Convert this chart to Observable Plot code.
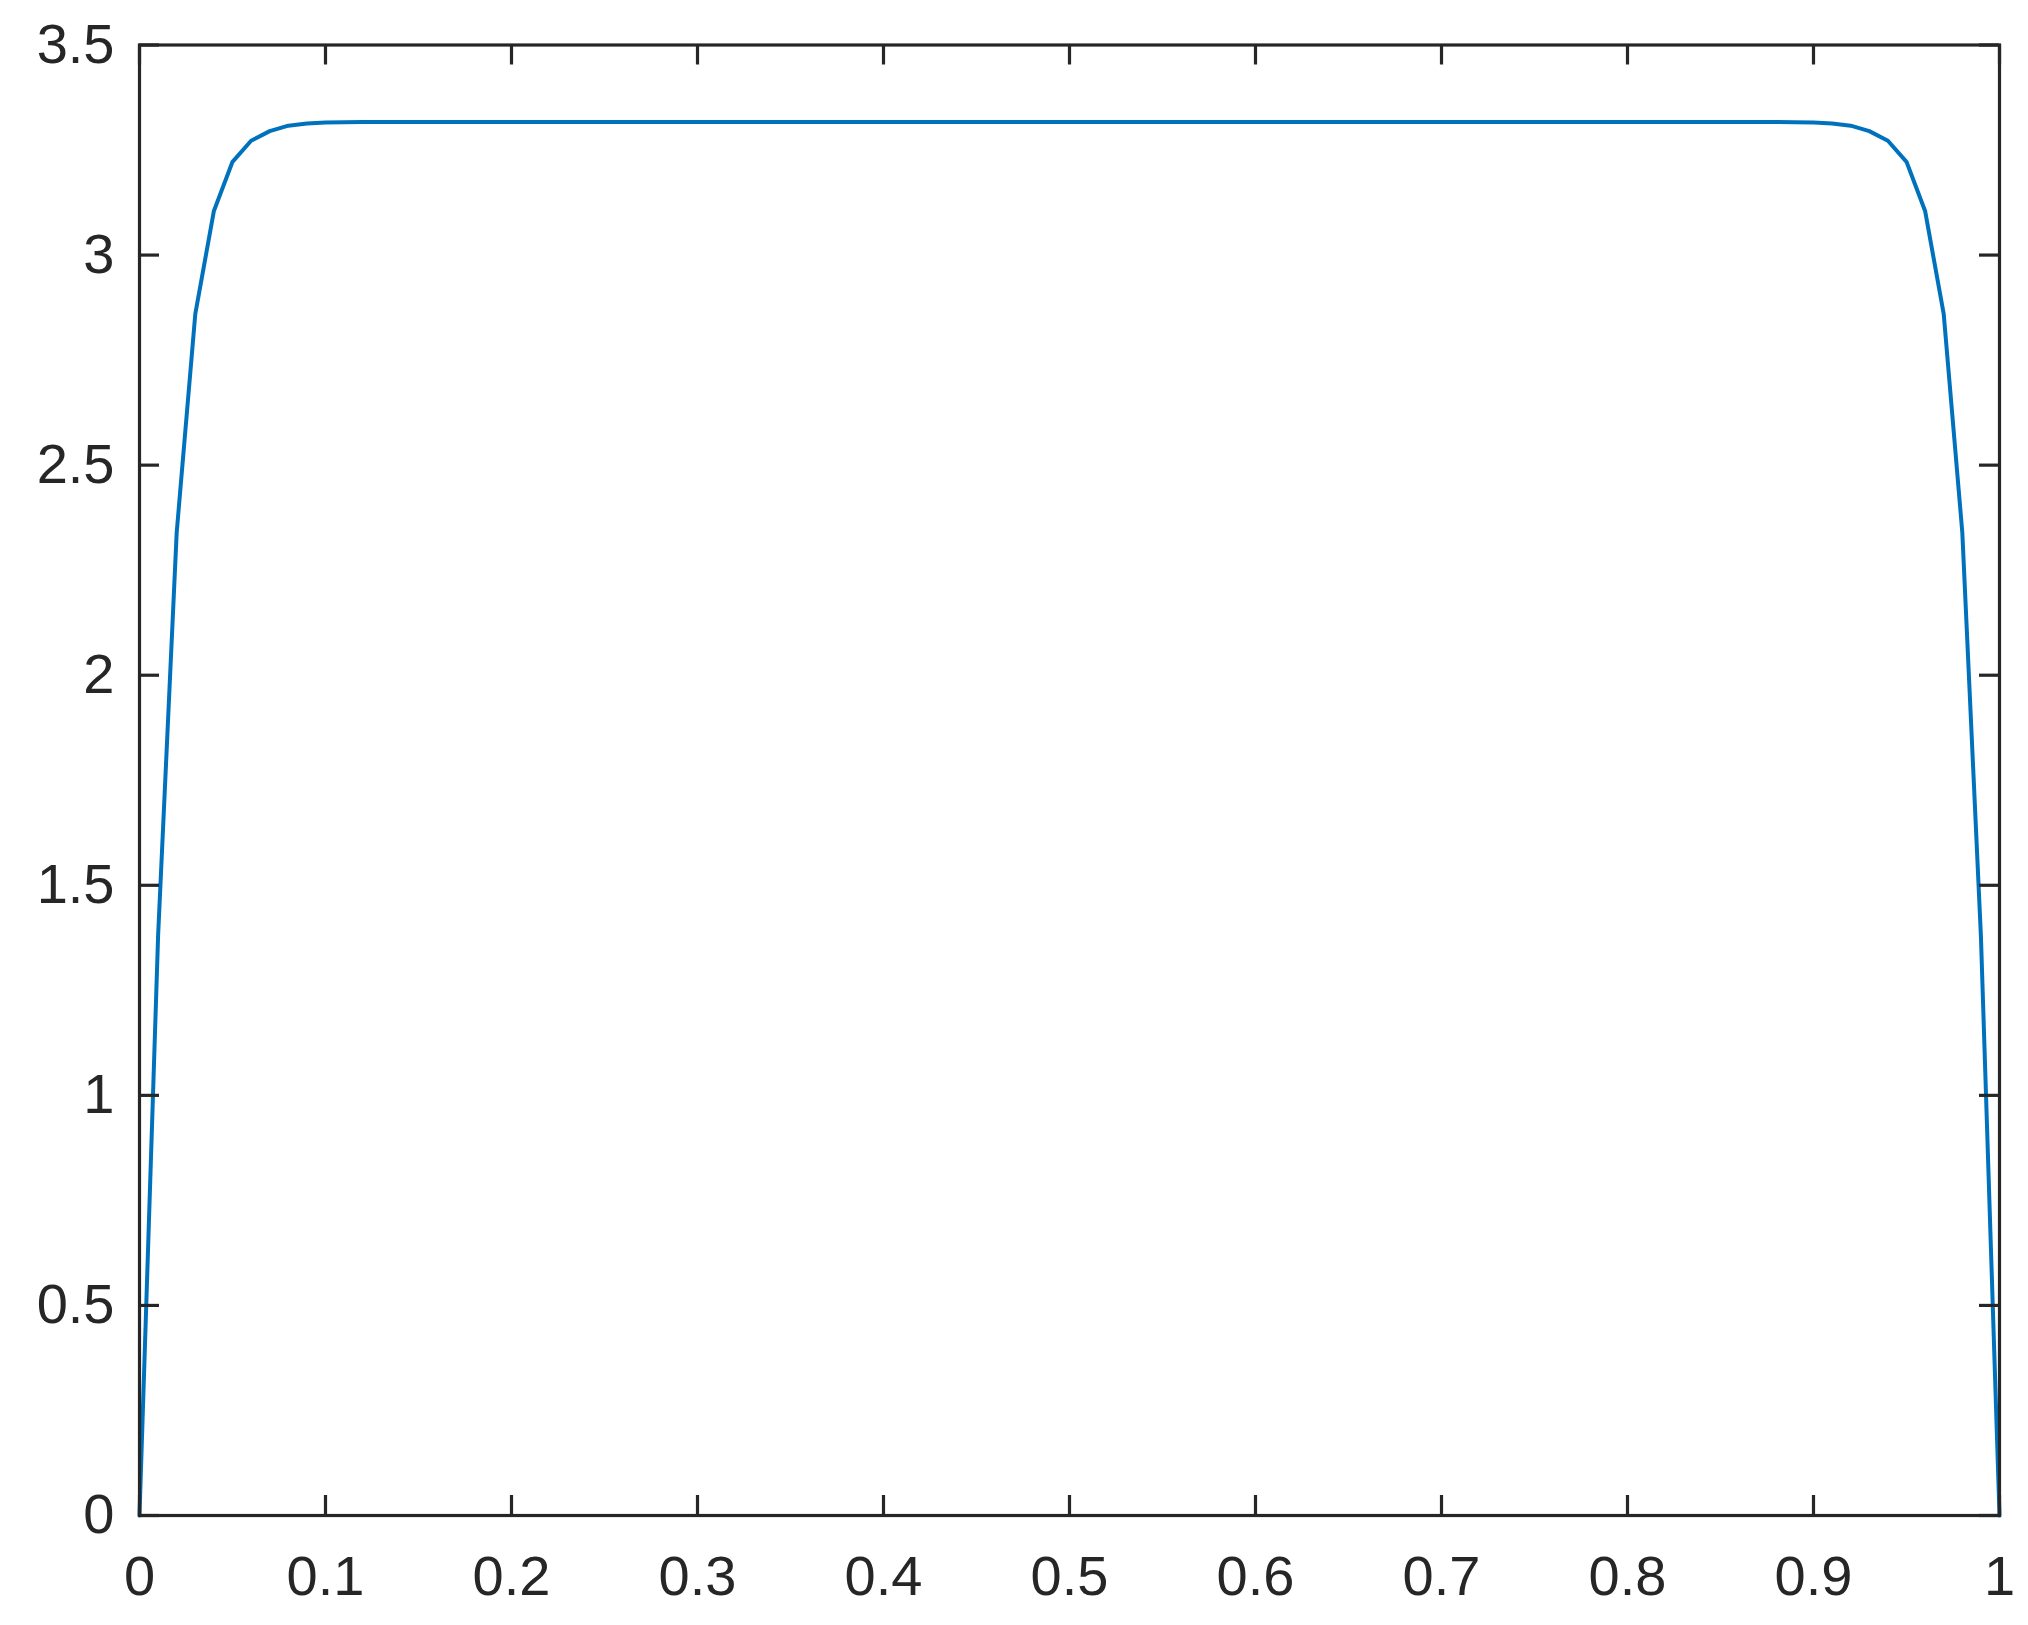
<!DOCTYPE html>
<html>
<head>
<meta charset="utf-8">
<script src="https://cdn.jsdelivr.net/npm/d3@7"></script>
<script src="https://cdn.jsdelivr.net/npm/@observablehq/plot@0.6"></script>
<style>
  html, body { margin: 0; padding: 0; background: #ffffff; }
  #chart { width: 2028px; height: 1625px; }
</style>
</head>
<body>
<div id="chart"></div>
<script>
const xValues = [
  0.00, 0.01, 0.02, 0.03, 0.04, 0.05, 0.06, 0.07, 0.08, 0.09,
  0.10, 0.11, 0.12, 0.13, 0.14, 0.15, 0.16, 0.17, 0.18, 0.19,
  0.20, 0.21, 0.22, 0.23, 0.24, 0.25, 0.26, 0.27, 0.28, 0.29,
  0.30, 0.31, 0.32, 0.33, 0.34, 0.35, 0.36, 0.37, 0.38, 0.39,
  0.40, 0.41, 0.42, 0.43, 0.44, 0.45, 0.46, 0.47, 0.48, 0.49,
  0.50, 0.51, 0.52, 0.53, 0.54, 0.55, 0.56, 0.57, 0.58, 0.59,
  0.60, 0.61, 0.62, 0.63, 0.64, 0.65, 0.66, 0.67, 0.68, 0.69,
  0.70, 0.71, 0.72, 0.73, 0.74, 0.75, 0.76, 0.77, 0.78, 0.79,
  0.80, 0.81, 0.82, 0.83, 0.84, 0.85, 0.86, 0.87, 0.88, 0.89,
  0.90, 0.91, 0.92, 0.93, 0.94, 0.95, 0.96, 0.97, 0.98, 0.99,
  1.00
];
const yValues = [
  0.000, 1.380, 2.340, 2.860, 3.105, 3.222, 3.272, 3.295, 3.308, 3.313,
  3.3155, 3.3163, 3.3166, 3.3166, 3.3166, 3.3166, 3.3166, 3.3166, 3.3166, 3.3166,
  3.3166, 3.3166, 3.3166, 3.3166, 3.3166, 3.3166, 3.3166, 3.3166, 3.3166, 3.3166,
  3.3166, 3.3166, 3.3166, 3.3166, 3.3166, 3.3166, 3.3166, 3.3166, 3.3166, 3.3166,
  3.3166, 3.3166, 3.3166, 3.3166, 3.3166, 3.3166, 3.3166, 3.3166, 3.3166, 3.3166,
  3.3166, 3.3166, 3.3166, 3.3166, 3.3166, 3.3166, 3.3166, 3.3166, 3.3166, 3.3166,
  3.3166, 3.3166, 3.3166, 3.3166, 3.3166, 3.3166, 3.3166, 3.3166, 3.3166, 3.3166,
  3.3166, 3.3166, 3.3166, 3.3166, 3.3166, 3.3166, 3.3166, 3.3166, 3.3166, 3.3166,
  3.3166, 3.3166, 3.3166, 3.3166, 3.3166, 3.3166, 3.3166, 3.3166, 3.3166, 3.3163,
  3.3155, 3.313, 3.308, 3.295, 3.272, 3.222, 3.105, 2.860, 2.340, 1.380,
  0.000
];
const xTicks = [0, 0.1, 0.2, 0.3, 0.4, 0.5, 0.6, 0.7, 0.8, 0.9, 1];
const xTickLabels = ["0", "0.1", "0.2", "0.3", "0.4", "0.5", "0.6", "0.7", "0.8", "0.9", "1"];
const yTicks = [0, 0.5, 1, 1.5, 2, 2.5, 3, 3.5];
const yTickLabels = ["0", "0.5", "1", "1.5", "2", "2.5", "3", "3.5"];

const series = xValues.map((x, i) => ({x, y: yValues[i]}));

const W = 2028, H = 1625;
const mL = 139, mR = 29, mT = 44.5, mB = 110;
const plotW = W - mL - mR, plotH = H - mT - mB;
const tickLen = 20;
const axisColor = "#262626";
const axisWidth = 3.2;
const xLabel = new Map(xTicks.map((t, i) => [t, xTickLabels[i]]));
const yLabel = new Map(yTicks.map((t, i) => [t, yTickLabels[i]]));

const chart = Plot.plot({
  width: W,
  height: H,
  marginLeft: mL,
  marginRight: mR,
  marginTop: mT,
  marginBottom: mB,
  style: {
    background: "#ffffff",
    fontFamily: "'Liberation Sans', Arial, Helvetica, sans-serif",
    fontSize: "56px",
    color: axisColor
  },
  x: {domain: [0, 1]},
  y: {domain: [0, 3.5]},
  marks: [
    Plot.line(series, {x: "x", y: "y", stroke: "#0072BD", strokeWidth: 4, strokeLinejoin: "round"}),
    // inward ticks on all four sides
    Plot.tickY(yTicks, {y: d => d, stroke: axisColor, strokeWidth: axisWidth, insetRight: plotW - tickLen}),
    Plot.tickY(yTicks, {y: d => d, stroke: axisColor, strokeWidth: axisWidth, insetLeft: plotW - tickLen}),
    Plot.tickX(xTicks, {x: d => d, stroke: axisColor, strokeWidth: axisWidth, insetTop: plotH - tickLen}),
    Plot.tickX(xTicks, {x: d => d, stroke: axisColor, strokeWidth: axisWidth, insetBottom: plotH - tickLen}),
    Plot.frame({stroke: axisColor, strokeWidth: axisWidth}),
    Plot.axisX({ticks: xTicks, tickSize: 0, tickPadding: 40, tickFormat: d => xLabel.get(d), fill: axisColor, fontSize: 56, label: null}),
    Plot.axisY({ticks: yTicks, tickSize: 0, tickPadding: 25, tickFormat: d => yLabel.get(d), fill: axisColor, fontSize: 56, label: null})
  ]
});
document.getElementById("chart").appendChild(chart);
</script>
</body>
</html>
